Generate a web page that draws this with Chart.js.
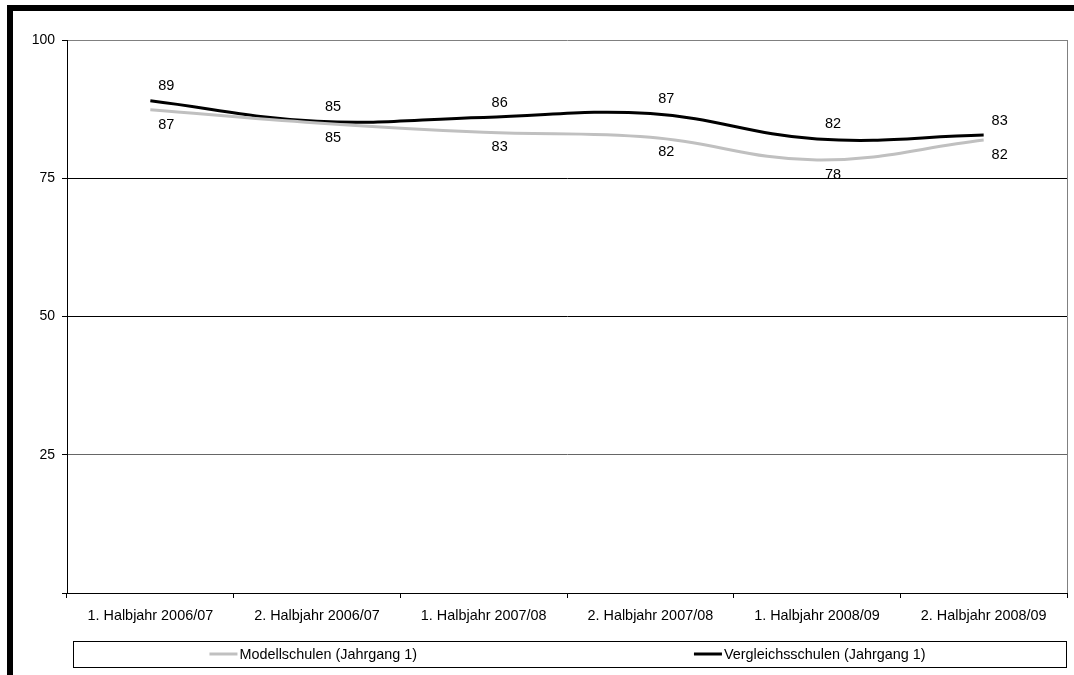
<!DOCTYPE html>
<html>
<head>
<meta charset="utf-8">
<script src="https://cdn.jsdelivr.net/npm/chart.js@4"></script>
<style>
  html, body { margin: 0; padding: 0; background: #fff; }
  #wrap { width: 1074px; height: 675px; position: relative; }
</style>
</head>
<body>
<div id="wrap"><canvas id="miGrafico"></canvas></div>
<script>
const categorias = ['1. Halbjahr 2006/07', '2. Halbjahr 2006/07', '1. Halbjahr 2007/08',
  '2. Halbjahr 2007/08', '1. Halbjahr 2008/09', '2. Halbjahr 2008/09'];
const modellschulen = [87.4, 85.0, 83.3, 82.4, 78.3, 81.9];
const vergleichsschulen = [89.0, 85.3, 86.0, 86.7, 82.1, 82.8];
const yTicks = [0, 25, 50, 75, 100];

const FONT = 'Liberation Sans, Arial, sans-serif';

// Rahmen, Plotrahmen, Datenbeschriftungen, Legende
const extras = {
  id: 'extras',
  beforeDraw(chart) {
    const c = chart.ctx;
    c.save();
    c.fillStyle = '#000';
    c.fillRect(7, 5, 1067, 6);
    c.fillRect(7, 5, 6, 670);
    c.restore();
  },
  afterDraw(chart) {
    const c = chart.ctx;
    const a = chart.chartArea;
    c.save();
    c.strokeStyle = '#808080';
    c.lineWidth = 1;
    c.beginPath();
    c.moveTo(Math.round(a.right) + 0.5, a.top);
    c.lineTo(Math.round(a.right) + 0.5, a.bottom);
    c.stroke();

    // Datenbeschriftungen
    c.font = '14.5px ' + FONT;
    c.fillStyle = '#000';
    c.textAlign = 'center';
    c.textBaseline = 'middle';
    chart.data.datasets.forEach((ds, i) => {
      const meta = chart.getDatasetMeta(i);
      meta.data.forEach((p, j) => {
        const dy = ds.labelBelow ? 15 : -14.5;
        c.fillText(Math.round(ds.data[j]), p.x + 16, p.y + dy);
      });
    });

    // Legende
    const bx = 73, by = 641, bw = 993, bh = 26;
    c.strokeStyle = '#000';
    c.strokeRect(bx + 0.5, by + 0.5, bw, bh);
    c.font = '14.4px ' + FONT;
    c.textAlign = 'left';
    const half = bw / 2;
    chart.data.datasets.forEach((ds, i) => {
      const tw = c.measureText(ds.label).width;
      const total = 28 + 2 + tw;
      const x0 = bx + half * i + (half - total) / 2 - 8;
      const yc = by + bh / 2;
      c.strokeStyle = ds.borderColor;
      c.lineWidth = 3;
      c.beginPath();
      c.moveTo(x0, yc);
      c.lineTo(x0 + 28, yc);
      c.stroke();
      c.fillStyle = '#000';
      c.fillText(ds.label, x0 + 30, yc + 1);
    });
    c.restore();
  }
};

const ctx = document.getElementById('miGrafico').getContext('2d');
const miGrafico = new Chart(ctx, {
  type: 'line',
  data: {
    labels: categorias,
    datasets: [{
      label: 'Modellschulen (Jahrgang 1)',
      data: modellschulen,
      borderColor: '#c0c0c0',
      borderWidth: 3,
      pointRadius: 0,
      tension: 0.4,
      fill: false,
      labelBelow: true
    }, {
      label: 'Vergleichsschulen (Jahrgang 1)',
      data: vergleichsschulen,
      borderColor: '#000000',
      borderWidth: 3,
      pointRadius: 0,
      tension: 0.4,
      fill: false,
      labelBelow: false
    }]
  },
  options: {
    responsive: true,
    maintainAspectRatio: false,
    animation: false,
    layout: { padding: { left: 0, right: 7, top: 40, bottom: 42 } },
    plugins: {
      legend: { display: false },
      tooltip: { enabled: false },
      title: { display: false }
    },
    scales: {
      x: {
        offset: true,
        grid: {
          offset: true,
          drawOnChartArea: false,
          drawTicks: true,
          tickLength: 5,
          tickColor: '#000'
        },
        border: { color: '#000', width: 1 },
        ticks: {
          color: '#000',
          font: { family: FONT, size: 14.4 },
          padding: 9,
          maxRotation: 0,
          autoSkip: false
        },
        afterFit(scale) { scale.height = 40; }
      },
      y: {
        min: 0,
        max: 100,
        afterBuildTicks(scale) { scale.ticks = yTicks.map(v => ({ value: v })); },
        grid: {
          color(c) {
            const v = c.tick && c.tick.value;
            if (v === 100) return '#808080';
            if (v === 25) return '#666';
            return '#000';
          },
          tickColor: '#000',
          tickLength: 5,
          lineWidth: 1
        },
        border: { color: '#000', width: 1 },
        ticks: {
          color: '#000',
          font: { family: FONT, size: 14 },
          padding: 7,
          callback(v) { return v === 0 ? '' : v; }
        },
        afterFit(scale) { scale.width = 67; }
      }
    }
  },
  plugins: [extras]
});
</script>
</body>
</html>
